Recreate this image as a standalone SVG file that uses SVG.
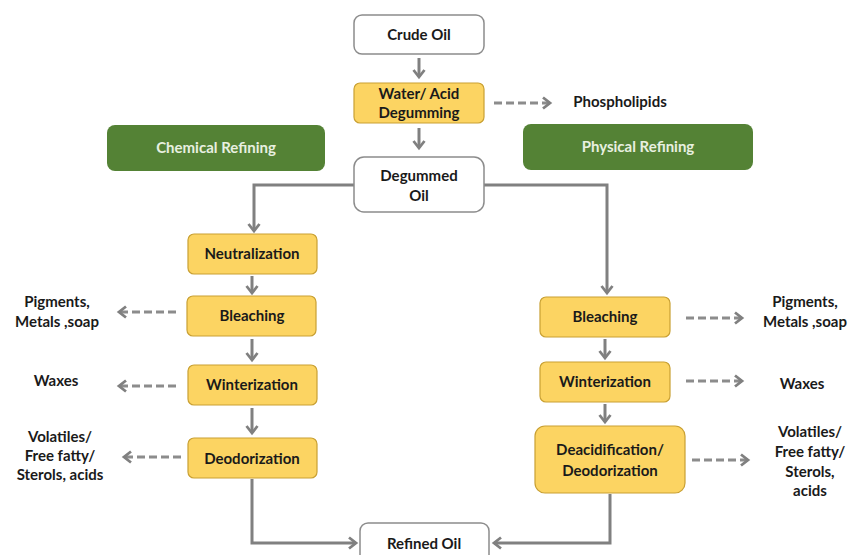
<svg xmlns="http://www.w3.org/2000/svg" width="850" height="555" viewBox="0 0 850 555">
<defs>
<style>
.w{fill:#fff;stroke:#8c8c8c;stroke-width:1.5}
.y{fill:#fcd462;stroke:#c9a032;stroke-width:1.2}
.g{fill:#548235;stroke:none}
text{font-family:Lato,"Open Sans","Liberation Sans",sans-serif;font-weight:bold;font-size:15px;fill:#1a1a1a;text-anchor:middle}
.gt{fill:#e8f0e0}
.c{fill:none;stroke:#808080;stroke-width:3}
.d{fill:none;stroke:#8c8c8c;stroke-width:3;stroke-dasharray:8,4}
</style>
<marker id="ah" markerWidth="12" markerHeight="14" refX="8" refY="7" orient="auto" markerUnits="userSpaceOnUse">
<path d="M1,1.5 L8,7 L1,12.5" fill="none" stroke="#808080" stroke-width="2.8"/>
</marker>
</defs>
<rect width="850" height="555" fill="#fff"/>
<g id="connectors">
<line class="c" x1="419" y1="58" x2="419" y2="77" marker-end="url(#ah)"/>
<line class="c" x1="419" y1="128" x2="419" y2="148" marker-end="url(#ah)"/>
<line class="d" x1="494" y1="103" x2="550" y2="103" marker-end="url(#ah)"/>
<polyline class="c" points="354,185 254,185 254,231" marker-end="url(#ah)"/>
<polyline class="c" points="484,185 607,185 607,293" marker-end="url(#ah)"/>
<line class="c" x1="252" y1="276" x2="252" y2="293" marker-end="url(#ah)"/>
<line class="c" x1="252" y1="339" x2="252" y2="360" marker-end="url(#ah)"/>
<line class="c" x1="252" y1="408" x2="252" y2="433" marker-end="url(#ah)"/>
<line class="d" x1="176" y1="312" x2="119" y2="312" marker-end="url(#ah)"/>
<line class="d" x1="176" y1="386" x2="119" y2="386" marker-end="url(#ah)"/>
<line class="d" x1="181" y1="457" x2="124" y2="457" marker-end="url(#ah)"/>
<line class="c" x1="605" y1="339" x2="605" y2="358" marker-end="url(#ah)"/>
<line class="c" x1="605" y1="404" x2="605" y2="422" marker-end="url(#ah)"/>
<line class="d" x1="686" y1="318" x2="742" y2="318" marker-end="url(#ah)"/>
<line class="d" x1="686" y1="381" x2="742" y2="381" marker-end="url(#ah)"/>
<line class="d" x1="692" y1="460" x2="748" y2="460" marker-end="url(#ah)"/>
<polyline class="c" points="252,479 252,543 356,543" marker-end="url(#ah)"/>
<polyline class="c" points="610,494 610,543 494,543" marker-end="url(#ah)"/>
</g>
<g id="crude"><rect class="w" x="354" y="15" width="130" height="39" rx="8"/><text x="419" y="40">Crude Oil</text></g>
<g id="degumming"><rect class="y" x="354" y="83" width="130" height="40" rx="6"/><text x="419" y="99">Water/ Acid</text><text x="419" y="118">Degumming</text></g>
<g id="phospholipids"><text x="620" y="107">Phospholipids</text></g>
<g id="chemical"><rect class="g" x="107" y="125" width="218" height="46" rx="8"/><text class="gt" x="216" y="153">Chemical Refining</text></g>
<g id="physical"><rect class="g" x="523" y="124" width="230" height="46" rx="8"/><text class="gt" x="638" y="152">Physical Refining</text></g>
<g id="degummed"><rect class="w" x="354" y="157" width="130" height="55" rx="10"/><text x="419" y="181">Degummed</text><text x="419" y="201">Oil</text></g>
<g id="neutralization"><rect class="y" x="188" y="234" width="129" height="40" rx="6"/><text x="252" y="259">Neutralization</text></g>
<g id="bleachingL"><rect class="y" x="187" y="296" width="129" height="40" rx="6"/><text x="252" y="321">Bleaching</text></g>
<g id="winterL"><rect class="y" x="188" y="365" width="129" height="40" rx="6"/><text x="252" y="390">Winterization</text></g>
<g id="deodorL"><rect class="y" x="188" y="438" width="129" height="40" rx="6"/><text x="252" y="464">Deodorization</text></g>
<g id="pigL"><text x="57" y="307">Pigments,</text><text x="57" y="327">Metals ,soap</text></g>
<g id="waxL"><text x="56" y="386">Waxes</text></g>
<g id="volL"><text x="60" y="442">Volatiles/</text><text x="60" y="461">Free fatty/</text><text x="60" y="480">Sterols, acids</text></g>
<g id="bleachingR"><rect class="y" x="540" y="297" width="130" height="40" rx="6"/><text x="605" y="322">Bleaching</text></g>
<g id="winterR"><rect class="y" x="540" y="362" width="130" height="40" rx="6"/><text x="605" y="387">Winterization</text></g>
<g id="deacidR"><rect class="y" x="535" y="426" width="150" height="67" rx="10"/><text x="610" y="455">Deacidification/</text><text x="610" y="476">Deodorization</text></g>
<g id="pigR"><text x="805" y="307">Pigments,</text><text x="805" y="327">Metals ,soap</text></g>
<g id="waxR"><text x="802" y="389">Waxes</text></g>
<g id="volR"><text x="810" y="437">Volatiles/</text><text x="810" y="457">Free fatty/</text><text x="810" y="477">Sterols,</text><text x="810" y="496">acids</text></g>
<g id="refined"><rect class="w" x="360" y="523" width="129" height="45" rx="8"/><text x="424" y="549">Refined Oil</text></g>
</svg>
